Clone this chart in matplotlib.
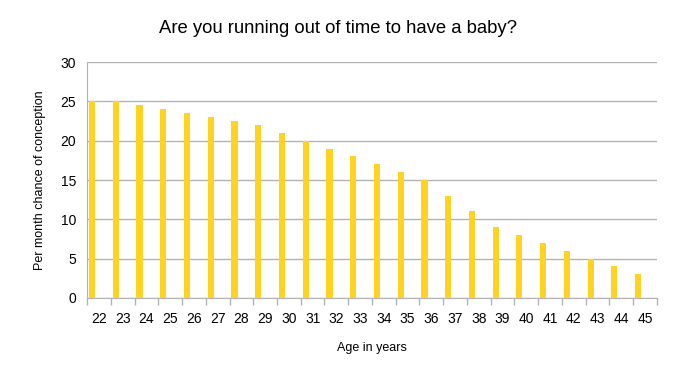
import numpy as np
import matplotlib.pyplot as plt

plt.rcParams['font.family'] = ['Liberation Sans', 'DejaVu Sans']

ages = list(range(22, 46))
chance = [25, 25, 24.5, 24, 23.5, 23, 22.5, 22, 21, 20, 19, 18, 17, 16, 15,
          13, 11, 9, 8, 7, 6, 5, 4, 3]

fig = plt.figure(figsize=(6.8, 3.7), dpi=100)
ax = fig.add_axes([0.128, 0.195, 0.838, 0.637])

x = np.arange(len(ages))
# bars sit at the left of each category slot, like the original
ax.bar(x - 0.29, chance, width=0.26, color='#ffd320', zorder=3)

ax.set_xlim(-0.5, len(ages) - 0.5)
ax.set_ylim(0, 30)
ax.set_yticks(range(0, 31, 5))
ax.set_xticks(x)
ax.set_xticklabels([str(a) for a in ages])
ax.set_xticks(np.arange(-0.5, len(ages)), minor=True)
ax.tick_params(axis='x', which='major', length=0, pad=10, labelsize=10)
ax.tick_params(axis='x', which='minor', length=5, color='#b3b3b3', width=1)
ax.tick_params(axis='y', length=0, pad=8, labelsize=10)

ax.grid(axis='y', color='#b3b3b3', linewidth=1, zorder=0)
for s in ['top', 'right']:
    ax.spines[s].set_visible(False)
for s in ['left', 'bottom']:
    ax.spines[s].set_color('#b3b3b3')

fig.suptitle('Are you running out of time to have a baby?', fontsize=13.3,
             x=0.497, y=0.945)
ax.set_xlabel('Age in years', fontsize=9, labelpad=12)
ax.set_ylabel('Per month chance of conception', fontsize=9, labelpad=10)

fig.savefig('out.png', dpi=100)
